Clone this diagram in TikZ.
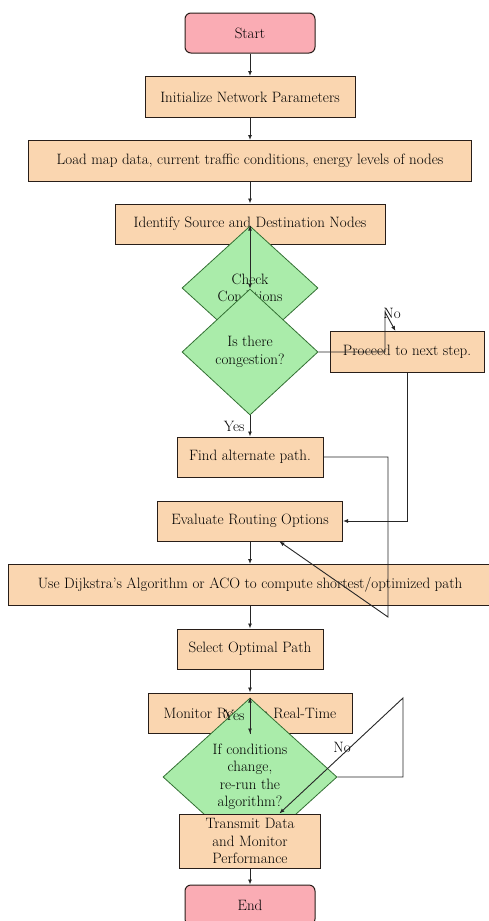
\documentclass[tikz,border=0pt]{standalone}
\usetikzlibrary{shapes.geometric,arrows.meta}
\definecolor{boxfill}{RGB}{250,214,176}
\definecolor{termfill}{RGB}{250,172,180}
\definecolor{decfill}{RGB}{170,236,170}
\definecolor{edgecol}{RGB}{40,30,25}
\tikzset{
  basefont/.style={font=\fontsize{15}{17.5}\selectfont},
  procbox/.style={basefont, draw=edgecol, line width=1pt, fill=boxfill, rectangle, inner sep=0pt, align=center},
  termbox/.style={basefont, draw=edgecol, line width=1pt, fill=termfill, rectangle, rounded corners=6pt, inner sep=0pt, minimum width=130pt, minimum height=40pt},
  decbox/.style={basefont, draw=black!60!green!60!gray, line width=0.8pt, fill=decfill, diamond, inner sep=0pt, align=center},
  arr/.style={draw=black!85, line width=0.9pt, -{Latex[length=5pt,width=4pt]}},
  lbl/.style={basefont, inner sep=5pt}
}
\begin{document}
\begin{tikzpicture}[x=1pt,y=-1pt]
\useasboundingbox (0,0) rectangle (488,921);
\fill[white] (0,0) rectangle (488,921);
% nodes
\node[termbox] (start) at (250,33) {Start};
\node[procbox, minimum width=210pt, minimum height=41pt] (init) at (250,97) {Initialize Network Parameters};
\node[procbox, minimum width=443pt, minimum height=41pt] (load) at (250,161) {Load map data, current traffic conditions, energy levels of nodes};
\node[procbox, minimum width=270pt, minimum height=40pt] (identify) at (250,224) {Identify Source and Destination Nodes};
\node[decbox, minimum width=136pt, minimum height=124pt] (check) at (250,288) {Check\\Conditions};
\node[decbox, minimum width=136pt, minimum height=126pt] (cong) at (250,352) {Is there\\congestion?};
\node[procbox, minimum width=154pt, minimum height=41pt] (proceed) at (407,352) {Proceed to next step.};
\node[procbox, minimum width=146pt, minimum height=40pt] (find) at (250,457) {Find alternate path.};
\node[procbox, minimum width=185pt, minimum height=40pt] (evaluate) at (250,521) {Evaluate Routing Options};
\node[procbox, minimum width=484pt, minimum height=41pt] (dijkstra) at (250,585) {Use Dijkstra's Algorithm or ACO to compute shortest/optimized path};
\node[procbox, minimum width=146pt, minimum height=40pt] (select) at (250,649) {Select Optimal Path};
\node[procbox, minimum width=204pt, minimum height=40pt] (monitor) at (250,713) {Monitor Route in Real-Time};
\node[decbox, minimum width=174pt, minimum height=158pt] (decision) at (250,777) {If conditions\\change,\\re-run the\\algorithm?};
\node[procbox, minimum width=141pt, minimum height=54pt] (transmit) at (250,841) {Transmit Data\\and Monitor\\Performance};
\node[termbox] (stop) at (250,905) {End};
% connectors
\coordinate (n1) at (385,352);
\coordinate (n2) at (385,312);
\coordinate (f1) at (388,457);
\coordinate (f2) at (388,617);
\coordinate (d1) at (403,777);
\coordinate (d2) at (403,698);
\draw[arr] (start) -- (init);
\draw[arr] (init) -- (load);
\draw[arr] (load) -- (identify);
\draw[arr] (identify.south) -- (check.north);
\draw[arr] (check.north) -- (cong.north);
\draw[arr] (cong.south) -- node[lbl, left] {Yes} (find.north);
\draw[arr] (cong.east) -- (n1) -- (n2) -- (proceed);
\node[lbl] (nolbl1) at (392,313) {No};
\draw[arr] (proceed.south) |- (evaluate.east);
\draw[arr] (find.east) -- (f1) -- (f2) -- (evaluate);
\draw[arr] (evaluate) -- (dijkstra);
\draw[arr] (dijkstra) -- (select);
\draw[arr] (select) -- (monitor);
\draw[arr] (monitor.south) -- (decision.north);
\draw[arr] (decision.north) -- node[lbl, left] {Yes} (monitor.south);
\draw[arr] (decision.east) -- (d1) -- (d2) -- (transmit);
\node[lbl] (nolbl2) at (342,747) {No};
\draw[arr] (transmit) -- (stop);
\end{tikzpicture}
\end{document}
